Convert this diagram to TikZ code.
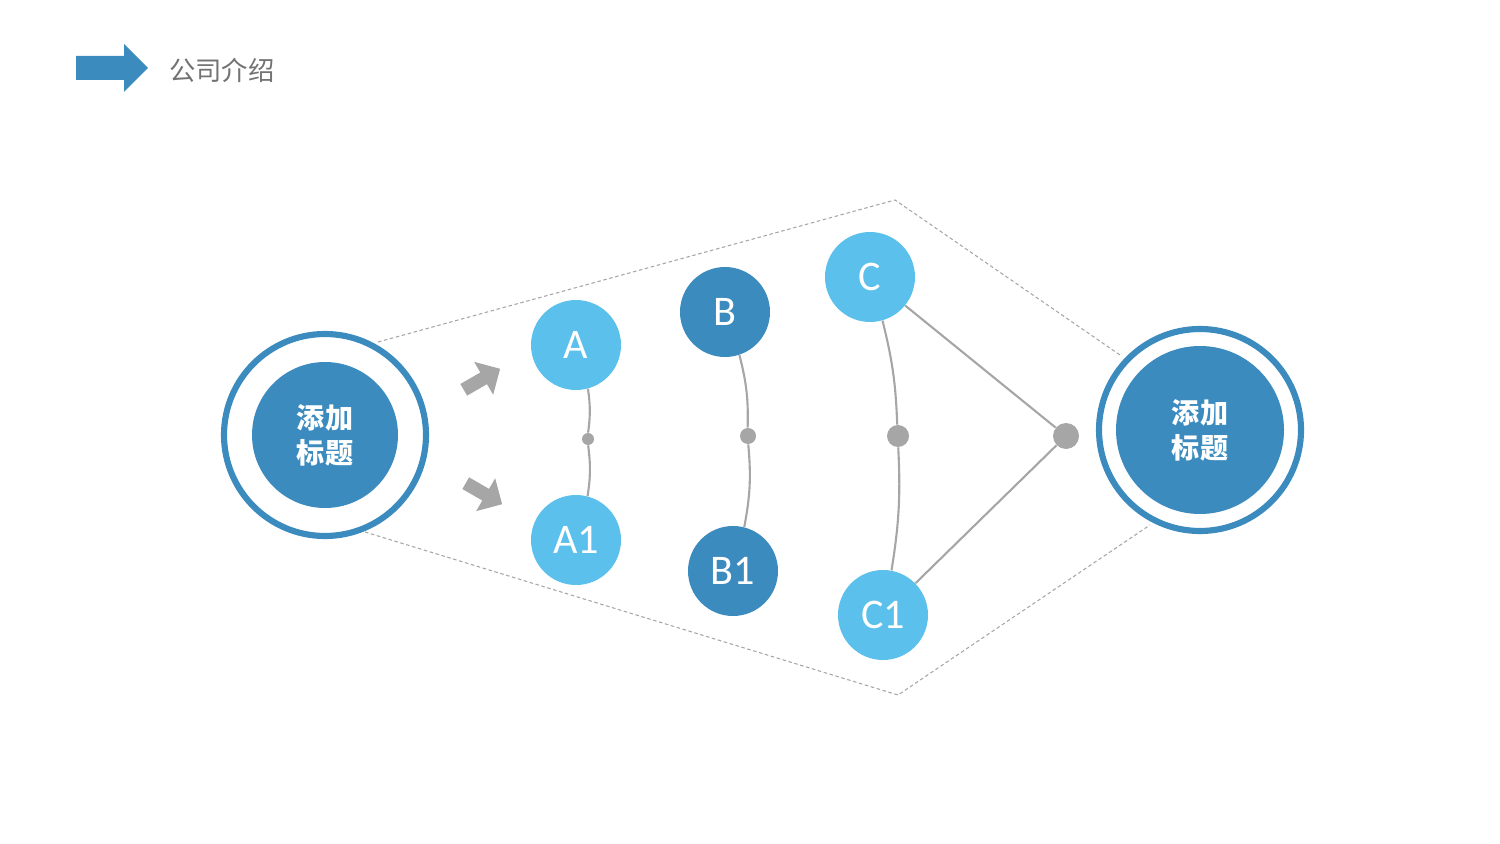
\documentclass[tikz,border=0pt]{standalone}
\usepackage{fontspec}
\setmainfont{Carlito}
\newfontfamily\cjk{Noto Sans CJK SC}
\usetikzlibrary{shapes.arrows}
\definecolor{darkblue}{HTML}{3C8BBF}
\definecolor{lightblue}{HTML}{5BC0EB}
\definecolor{linegray}{HTML}{A6A6A6}
\tikzset{
  ball/.style={circle,minimum size=90*0.02cm,inner sep=0pt,text=white,font=\fontsize{24}{24}\selectfont},
  light/.style={ball,fill=lightblue},
  dark/.style={ball,fill=darkblue},
  joint/.style={circle,fill=linegray,inner sep=0pt},
  link/.style={linegray,line width=1.2pt},
  frame/.style={linegray,dashed,line width=0.6pt,dash pattern=on 2pt off 1.5pt},
  hub/.style={circle,fill=darkblue,text=white,inner sep=0pt,align=center,font=\cjk\bfseries\fontsize{16}{20}\selectfont},
  ring/.style={circle,draw=darkblue,line width=3.5pt,inner sep=0pt},
  pointer/.style={single arrow,fill=linegray,minimum height=42*0.02cm,minimum width=38*0.02cm,single arrow head extend=4pt,inner sep=2pt}
}
\begin{document}
\begin{tikzpicture}[x=0.02cm,y=-0.02cm]
  \useasboundingbox (0,0) rectangle (1500,844);
  % header
  \fill[darkblue] (76,56) -- (124,56) -- (124,44) -- (148,68) -- (124,92) -- (124,80) -- (76,80) -- cycle;
  \node[anchor=west,text=gray!90!black,font=\cjk\fontsize{15}{15}\selectfont] (title) at (163,70) {公司介绍};
  % dashed frame
  \coordinate (topL) at (378,342);
  \coordinate (topM) at (895,200);
  \coordinate (topR) at (1120,355);
  \coordinate (botL) at (365,532);
  \coordinate (botM) at (898,695);
  \coordinate (botR) at (1150,525);
  \draw[frame] (topL) -- (topM) -- (topR);
  \draw[frame] (botL) -- (botM) -- (botR);
  % hubs
  \node[ring,minimum size=202*0.02cm] (leftRing) at (325,435) {};
  \node[hub,minimum size=146*0.02cm] (leftHub) at (325,435) {添加\\标题};
  \node[ring,minimum size=202*0.02cm] (rightRing) at (1200,430) {};
  \node[hub,minimum size=168*0.02cm] (rightHub) at (1200,430) {添加\\标题};
  % pointers
  \node[pointer,rotate=30] (upArrow) at (479,381) {};
  \node[pointer,rotate=-30] (downArrow) at (481,492) {};
  % nodes
  \node[light] (A) at (576,345) {A};
  \node[light] (A1) at (576,540) {A1};
  \node[dark] (B) at (725,312) {B};
  \node[dark] (B1) at (733,571) {B1};
  \node[light] (C) at (870,277) {C};
  \node[light] (C1) at (883,615) {C1};
  \node[joint,minimum size=12*0.02cm] (dotA) at (588,439) {};
  \node[joint,minimum size=16*0.02cm] (dotB) at (748,436) {};
  \node[joint,minimum size=22*0.02cm] (dotC) at (898,436) {};
  \node[joint,minimum size=26*0.02cm] (dotR) at (1066,436) {};
  % links
  \draw[link] (A) to[bend left=8] (dotA);
  \draw[link] (dotA) to[bend left=8] (A1);
  \draw[link] (B) to[bend left=8] (dotB);
  \draw[link] (dotB) to[bend left=8] (B1);
  \draw[link] (C) to[bend left=6] (dotC);
  \draw[link] (dotC) to[bend left=6] (C1);
  \draw[link] (C) -- (dotR);
  \draw[link] (C1) -- (dotR);
\end{tikzpicture}
\end{document}
